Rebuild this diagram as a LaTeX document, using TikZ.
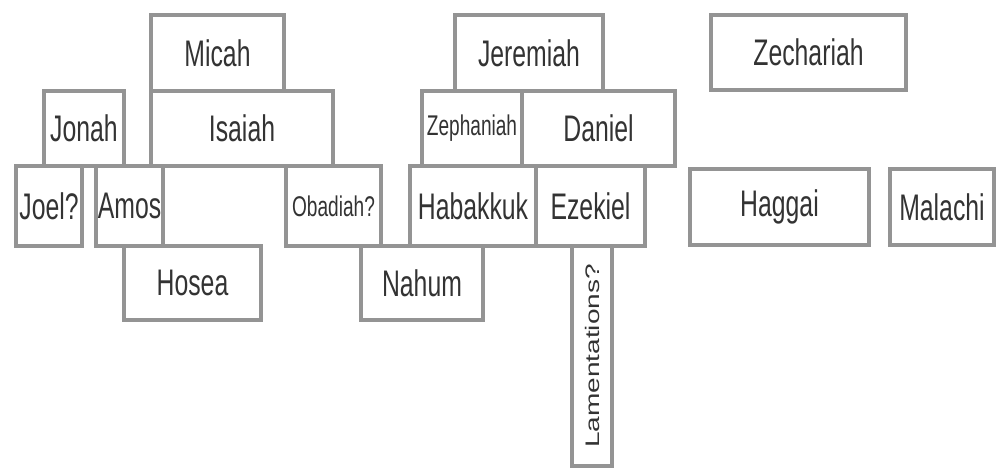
\documentclass[tikz,border=0pt]{standalone}
\usepackage{fontspec}
\setmainfont[FakeStretch=0.67]{Liberation Sans}
\newfontfamily\upfont[FakeStretch=1.43]{Liberation Sans}
\definecolor{framegray}{gray}{0.58}
\definecolor{namegray}{gray}{0.2}
\tikzset{
  pbox/.style={draw=framegray, line width=4.5pt, text=namegray, inner sep=0pt,
    font=\fontsize{37}{42}\selectfont},
  small/.style={font=\fontsize{28.5}{32}\selectfont},
  upright/.style={font=\upfont\fontsize{19.6}{22}\selectfont, rotate=90},
}
% box given by its left, top, right and bottom edge
\newcommand{\prophet}[7][]{%
  \node[pbox,minimum width={(#5-#3)*1pt},minimum height={(#6-#4)*1pt},#1]
    (#2) at ({(#3+#5)/2},{(#4+#6)/2}) {#7};}

\begin{document}
\begin{tikzpicture}[x=1pt,y=-1pt]
  \useasboundingbox (0,0) rectangle (999,469);
  % top row
  \prophet{micah}{151}{15}{284}{91}{Micah}
  \prophet{jeremiah}{455}{15}{603}{91}{Jeremiah}
  \prophet{zechariah}{711}{15}{906}{90}{Zechariah}
  % second row
  \prophet{jonah}{44}{91}{124}{166}{Jonah}
  \prophet{isaiah}{151}{91}{333}{166}{Isaiah}
  \prophet[small]{zephaniah}{422}{91}{522}{166}{Zephaniah}
  \prophet{daniel}{522}{91}{675}{166}{Daniel}
  % third row
  \prophet{joel}{16}{166}{82}{246}{Joel?}
  \prophet{amos}{96}{166}{163}{246}{Amos}
  \prophet[small]{obadiah}{286}{166}{381}{246}{Obadiah?}
  \prophet{habakkuk}{410}{166}{536}{246}{Habakkuk}
  \prophet{ezekiel}{536}{166}{645}{246}{Ezekiel}
  \prophet{haggai}{690}{169}{869}{245}{Haggai}
  \prophet{malachi}{890}{169}{994}{245}{Malachi}
  % bottom row
  \prophet{hosea}{124}{246}{261}{320}{Hosea}
  \prophet{nahum}{361}{246}{483}{320}{Nahum}
  \node[pbox, upright, minimum width=220pt, minimum height=40pt]
    (lamentations) at (592,356) {Lamentations?};
\end{tikzpicture}
\end{document}
